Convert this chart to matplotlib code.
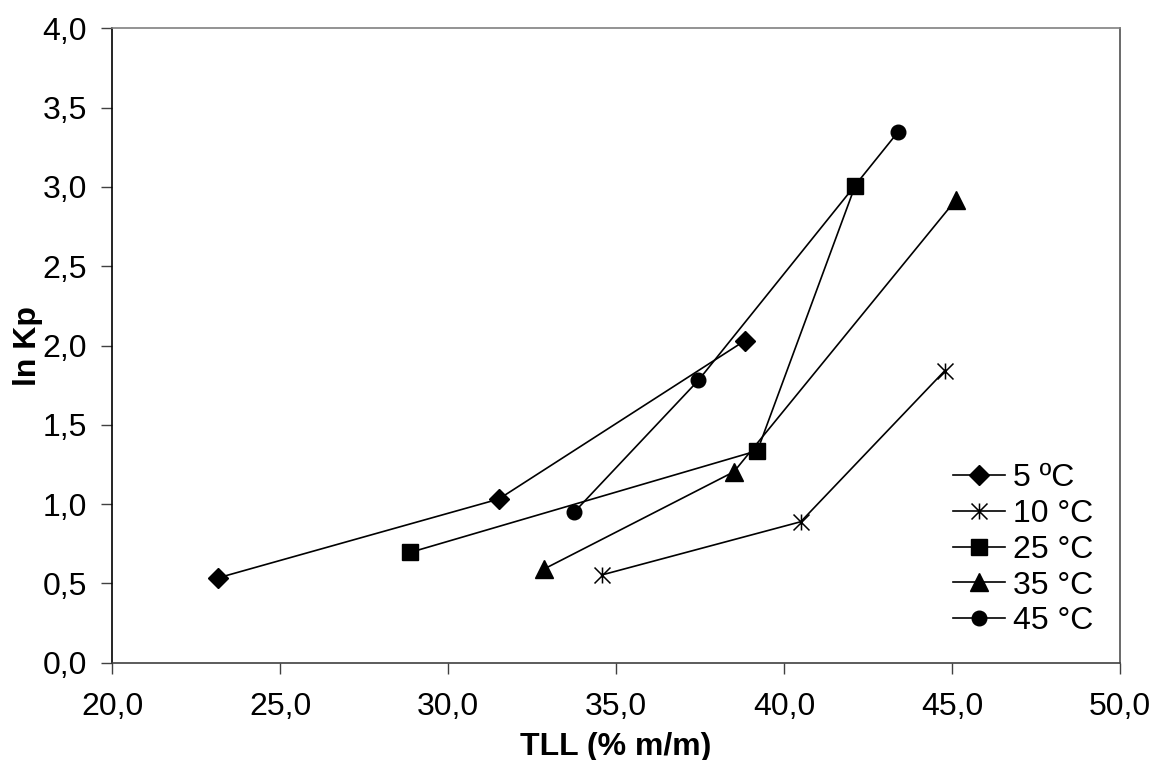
import matplotlib.pyplot as plt
import matplotlib as mpl
from matplotlib.path import Path

mpl.rcParams['font.family'] = ['Liberation Sans', 'DejaVu Sans']

# TLL (% m/m) and ln Kp for each temperature
tll_5 = [23.14, 31.51, 38.83]
lnkp_5 = [0.534, 1.032, 2.03]
tll_10 = [34.57, 40.50, 44.78]
lnkp_10 = [0.553, 0.889, 1.84]
tll_25 = [28.88, 39.21, 42.12]
lnkp_25 = [0.696, 1.337, 3.008]
tll_35 = [32.85, 38.51, 45.11]
lnkp_35 = [0.59, 1.204, 2.917]
tll_45 = [33.75, 37.45, 43.40]
lnkp_45 = [0.948, 1.78, 3.348]

labels = ["5 ºC", "10 °C", "25 °C", "35 °C", "45 °C"]
xticks = [20, 25, 30, 35, 40, 45, 50]
yticks = [0, 0.5, 1.0, 1.5, 2.0, 2.5, 3.0, 3.5, 4.0]

# Excel style star: an x with a vertical bar through it
star = Path([(-1, -1), (1, 1), (-1, 1), (1, -1), (0, -1), (0, 1)],
            [Path.MOVETO, Path.LINETO, Path.MOVETO, Path.LINETO, Path.MOVETO, Path.LINETO])

fig = plt.figure(figsize=(11.54, 7.6), dpi=100)
ax = fig.add_axes([0.0971, 0.128, 0.8734, 0.8347])

lw = 1.2
ax.plot(tll_5, lnkp_5, color='black', lw=lw, marker='D', ms=10, label=labels[0])
ax.plot(tll_10, lnkp_10, color='black', lw=lw, marker=star, ms=11.5, mew=1.1,
        markerfacecolor='none', label=labels[1])
ax.plot(tll_25, lnkp_25, color='black', lw=lw, marker='s', ms=11, label=labels[2])
ax.plot(tll_35, lnkp_35, color='black', lw=lw, marker='^', ms=13, label=labels[3])
ax.plot(tll_45, lnkp_45, color='black', lw=lw, marker='o', ms=10.5, label=labels[4])

ax.set_xlim(20, 50)
ax.set_ylim(0, 4.0)
ax.set_xticks(xticks)
ax.set_yticks(yticks)
ax.set_xticklabels([f"{v:.1f}".replace('.', ',') for v in xticks])
ax.set_yticklabels([f"{v:.1f}".replace('.', ',') for v in yticks])
ax.tick_params(axis='both', direction='out', length=8, width=1, labelsize=23,
               color='#404040')
ax.tick_params(axis='x', pad=13)
ax.tick_params(axis='y', pad=10)

ax.spines['left'].set_color('black')
ax.spines['bottom'].set_color('#404040')
ax.spines['top'].set_color('#808080')
ax.spines['right'].set_color('#505050')
for s in ax.spines.values():
    s.set_linewidth(1.2)

ax.set_xlabel("TLL (% m/m)", fontsize=23, fontweight='bold', labelpad=7)
ax.set_ylabel("ln Kp", fontsize=23, fontweight='bold', labelpad=0)

ax.legend(loc='center left', bbox_to_anchor=(0.806, 0.178), frameon=False,
          fontsize=23, handlelength=1.63, handletextpad=0.25, labelspacing=0.18)

plt.savefig('out.png', dpi=100)
